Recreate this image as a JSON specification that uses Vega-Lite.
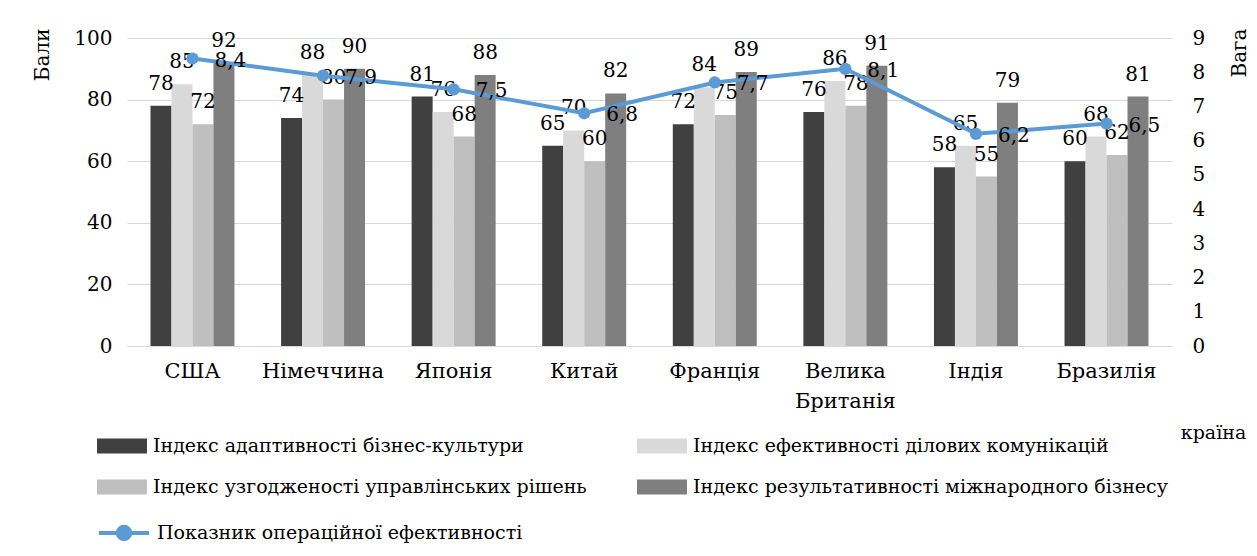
{
  "$schema": "https://vega.github.io/schema/vega-lite/v6.json",
  "width": 1045,
  "height": 308,
  "autosize": {"type": "none"},
  "padding": {"left": 127, "top": 38, "right": 85, "bottom": 210},
  "background": "white",
  "config": {
    "font": "DejaVu Serif",
    "locale": {"number": {"decimal": ",", "thousands": " ", "grouping": [3], "currency": ["", ""]}},
    "view": {"stroke": null},
    "text": {"font": "DejaVu Serif"},
    "legend": {"labelFont": "DejaVu Serif", "titleFont": "DejaVu Serif"},
    "axis": {"labelFont": "DejaVu Serif", "titleFont": "DejaVu Serif", "labelColor": "#000", "titleColor": "#000", "titleFontWeight": "normal", "ticks": false, "labelFontSize": 20, "titleFontSize": 20}
  },
  "datasets": {
    "bars": [
      {"country": "США", "series": "Індекс адаптивності бізнес-культури", "value": 78},
      {"country": "США", "series": "Індекс ефективності ділових комунікацій", "value": 85},
      {"country": "США", "series": "Індекс узгодженості управлінських рішень", "value": 72},
      {"country": "США", "series": "Індекс результативності міжнародного бізнесу", "value": 92},
      {"country": "Німеччина", "series": "Індекс адаптивності бізнес-культури", "value": 74},
      {"country": "Німеччина", "series": "Індекс ефективності ділових комунікацій", "value": 88},
      {"country": "Німеччина", "series": "Індекс узгодженості управлінських рішень", "value": 80},
      {"country": "Німеччина", "series": "Індекс результативності міжнародного бізнесу", "value": 90},
      {"country": "Японія", "series": "Індекс адаптивності бізнес-культури", "value": 81},
      {"country": "Японія", "series": "Індекс ефективності ділових комунікацій", "value": 76},
      {"country": "Японія", "series": "Індекс узгодженості управлінських рішень", "value": 68},
      {"country": "Японія", "series": "Індекс результативності міжнародного бізнесу", "value": 88},
      {"country": "Китай", "series": "Індекс адаптивності бізнес-культури", "value": 65},
      {"country": "Китай", "series": "Індекс ефективності ділових комунікацій", "value": 70},
      {"country": "Китай", "series": "Індекс узгодженості управлінських рішень", "value": 60},
      {"country": "Китай", "series": "Індекс результативності міжнародного бізнесу", "value": 82},
      {"country": "Франція", "series": "Індекс адаптивності бізнес-культури", "value": 72},
      {"country": "Франція", "series": "Індекс ефективності ділових комунікацій", "value": 84},
      {"country": "Франція", "series": "Індекс узгодженості управлінських рішень", "value": 75},
      {"country": "Франція", "series": "Індекс результативності міжнародного бізнесу", "value": 89},
      {"country": "Велика Британія", "series": "Індекс адаптивності бізнес-культури", "value": 76},
      {"country": "Велика Британія", "series": "Індекс ефективності ділових комунікацій", "value": 86},
      {"country": "Велика Британія", "series": "Індекс узгодженості управлінських рішень", "value": 78},
      {"country": "Велика Британія", "series": "Індекс результативності міжнародного бізнесу", "value": 91},
      {"country": "Індія", "series": "Індекс адаптивності бізнес-культури", "value": 58},
      {"country": "Індія", "series": "Індекс ефективності ділових комунікацій", "value": 65},
      {"country": "Індія", "series": "Індекс узгодженості управлінських рішень", "value": 55},
      {"country": "Індія", "series": "Індекс результативності міжнародного бізнесу", "value": 79},
      {"country": "Бразилія", "series": "Індекс адаптивності бізнес-культури", "value": 60},
      {"country": "Бразилія", "series": "Індекс ефективності ділових комунікацій", "value": 68},
      {"country": "Бразилія", "series": "Індекс узгодженості управлінських рішень", "value": 62},
      {"country": "Бразилія", "series": "Індекс результативності міжнародного бізнесу", "value": 81}
    ],
    "line": [
      {"country": "США", "name": "Показник операційної ефективності", "weight": 8.4},
      {"country": "Німеччина", "name": "Показник операційної ефективності", "weight": 7.9},
      {"country": "Японія", "name": "Показник операційної ефективності", "weight": 7.5},
      {"country": "Китай", "name": "Показник операційної ефективності", "weight": 6.8},
      {"country": "Франція", "name": "Показник операційної ефективності", "weight": 7.7},
      {"country": "Велика Британія", "name": "Показник операційної ефективності", "weight": 8.1},
      {"country": "Індія", "name": "Показник операційної ефективності", "weight": 6.2},
      {"country": "Бразилія", "name": "Показник операційної ефективності", "weight": 6.5}
    ]
  },
  "layer": [
    {
      "data": {"name": "bars"},
      "encoding": {
        "x": {
          "field": "country", "type": "nominal",
          "sort": ["США", "Німеччина", "Японія", "Китай", "Франція", "Велика Британія", "Індія", "Бразилія"],
          "scale": {"paddingInner": 0.357, "paddingOuter": 0.18},
          "axis": {"title": "країна", "labelFont": "DejaVu Serif", "titleFont": "DejaVu Serif", "labelFontSize": 21, "labelAngle": 0, "labelPadding": 14, "labelLineHeight": 30, "domainColor": "#d9d9d9", "grid": false,
            "labelExpr": "datum.label == 'Велика Британія' ? ['Велика', 'Британія'] : datum.label",
            "titleX": 1086, "titleY": 86, "titleAlign": "center", "titleBaseline": "middle", "titleFontSize": 19}
        },
        "xOffset": {
          "field": "series", "type": "nominal",
          "sort": ["Індекс адаптивності бізнес-культури", "Індекс ефективності ділових комунікацій", "Індекс узгодженості управлінських рішень", "Індекс результативності міжнародного бізнесу"],
          "scale": {"paddingInner": 0, "paddingOuter": 0}
        },
        "y": {
          "field": "value", "type": "quantitative",
          "scale": {"domain": [0, 100]},
          "axis": {"values": [0, 20, 40, 60, 80, 100], "labelFont": "DejaVu Serif", "titleFont": "DejaVu Serif", "grid": true, "gridColor": "#d9d9d9", "domain": false, "labelPadding": 15,
            "title": "Бали", "titleAngle": 270, "titleX": -85, "titleY": -10, "titleAlign": "right", "titleBaseline": "middle"}
        }
      },
      "layer": [
        {
          "mark": {"type": "bar"},
          "encoding": {
            "color": {
              "field": "series", "type": "nominal",
              "scale": {
                "domain": ["Індекс адаптивності бізнес-культури", "Індекс узгодженості управлінських рішень", "Індекс ефективності ділових комунікацій", "Індекс результативності міжнародного бізнесу"],
                "range": ["#404040", "#bfbfbf", "#d9d9d9", "#7f7f7f"]
              },
              "legend": {
                "orient": "none", "legendX": -30, "legendY": 383, "columns": 2, "columnPadding": 50, "rowPadding": 6,
                "title": null, "padding": 0,
                "symbolType": "M-1,-0.3H1V0.3H-1Z", "symbolSize": 2500, "symbolStrokeWidth": 0, "symbolOpacity": 1,
                "labelFont": "DejaVu Serif", "labelFontSize": 19, "labelColor": "#000", "labelLimit": 700, "labelOffset": 6
              }
            }
          }
        },
        {
          "mark": {"type": "text", "baseline": "middle", "dy": -22, "fontSize": 20, "font": "DejaVu Serif", "color": "#000"},
          "encoding": {"text": {"field": "value", "type": "quantitative"}}
        }
      ]
    },
    {
      "data": {"name": "line"},
      "encoding": {
        "x": {
          "field": "country", "type": "nominal",
          "sort": ["США", "Німеччина", "Японія", "Китай", "Франція", "Велика Британія", "Індія", "Бразилія"],
          "axis": {"title": "країна", "labelFont": "DejaVu Serif", "titleFont": "DejaVu Serif", "labelFontSize": 21, "labelAngle": 0, "labelPadding": 14, "labelLineHeight": 30, "domainColor": "#d9d9d9", "grid": false,
            "labelExpr": "datum.label == 'Велика Британія' ? ['Велика', 'Британія'] : datum.label",
            "titleX": 1086, "titleY": 86, "titleAlign": "center", "titleBaseline": "middle", "titleFontSize": 19}
        },
        "y": {
          "field": "weight", "type": "quantitative",
          "scale": {"domain": [0, 9]},
          "axis": {"orient": "right", "labelFont": "DejaVu Serif", "titleFont": "DejaVu Serif", "values": [0, 1, 2, 3, 4, 5, 6, 7, 8, 9], "grid": false, "domain": false, "labelPadding": 20,
            "title": "Вага", "titleAngle": 270, "titleX": 67, "titleY": -10, "titleAlign": "right", "titleBaseline": "middle"}
        }
      },
      "layer": [
        {
          "mark": {"type": "line", "strokeWidth": 4},
          "encoding": {
            "stroke": {
              "field": "name", "type": "nominal",
              "scale": {"range": ["#5B9BD5"]},
              "legend": {
                "orient": "none", "legendX": -30, "legendY": 468, "title": null, "padding": 0,
                "symbolType": "M-1,0H1M0.25,0A0.25,0.25,0,1,1,-0.25,0A0.25,0.25,0,1,1,0.25,0Z", "symbolSize": 2500,
                "symbolStrokeWidth": 4, "symbolFillColor": "#5B9BD5", "symbolStrokeColor": "#5B9BD5",
                "labelFont": "DejaVu Serif", "labelFontSize": 19, "labelColor": "#000", "labelLimit": 700, "labelOffset": 6
              }
            }
          }
        },
        {
          "mark": {"type": "point", "filled": true, "size": 150, "color": "#5B9BD5", "opacity": 1}
        },
        {
          "mark": {"type": "text", "align": "left", "baseline": "middle", "dx": 22, "dy": 2, "fontSize": 20, "font": "DejaVu Serif", "color": "#000"},
          "encoding": {"text": {"field": "weight", "type": "quantitative", "format": ".1f"}}
        }
      ]
    }
  ],
  "resolve": {"scale": {"y": "independent"}}
}
